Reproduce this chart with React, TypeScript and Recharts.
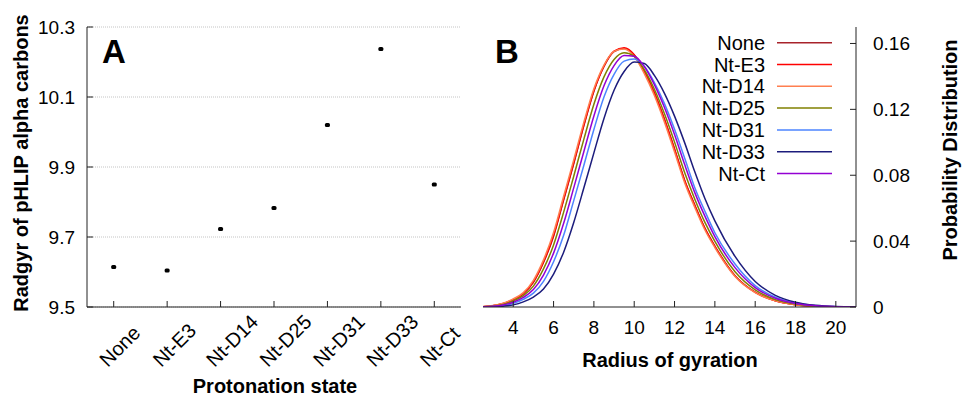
import React from "react";
import { ScatterChart, Scatter, LineChart, Line, XAxis, YAxis, CartesianGrid } from "recharts";

const FONT = '"Liberation Sans", Arial, Helvetica, sans-serif';
const INK = "#222";

// panel A: radius of gyration per protonation state
const states = ["None", "Nt-E3", "Nt-D14", "Nt-D25", "Nt-D31", "Nt-D33", "Nt-Ct"];
const radgyr = [9.614, 9.604, 9.723, 9.783, 10.02, 10.237, 9.85];
const radgyrTicks = [9.5, 9.7, 9.9, 10.1, 10.3];
const stateIdx = [0, 1, 2, 3, 4, 5, 6];

// panel B: probability distributions
const rg = [2.5, 3, 3.5, 4, 4.5, 5, 5.5, 6, 6.5, 7, 7.5, 8, 8.5, 9, 9.5, 10, 10.5, 11, 11.5, 12, 12.5, 13, 13.5, 14, 15, 16, 17, 18, 19, 20, 21];
const pNone = [0.0002, 0.0008, 0.002, 0.0045, 0.008, 0.015, 0.027, 0.043, 0.065, 0.087, 0.11, 0.131, 0.146, 0.155, 0.157, 0.153, 0.143, 0.13, 0.114, 0.096, 0.077, 0.062, 0.048, 0.037, 0.019, 0.009, 0.0038, 0.0014, 0.0004, 0.0001, 0];
const pE3 = [0.0002, 0.0008, 0.0021, 0.0046, 0.0082, 0.0152, 0.0273, 0.0434, 0.0655, 0.0875, 0.1104, 0.1313, 0.1463, 0.1553, 0.1574, 0.1532, 0.1431, 0.1299, 0.1138, 0.0958, 0.0768, 0.0618, 0.0478, 0.0368, 0.0189, 0.0089, 0.0037, 0.0014, 0.0004, 0.0001, 0];
const pD14 = [0.0003, 0.0009, 0.0023, 0.0049, 0.0087, 0.0162, 0.0286, 0.0452, 0.0672, 0.0893, 0.1121, 0.1325, 0.1469, 0.1552, 0.1566, 0.152, 0.1417, 0.1284, 0.1122, 0.0941, 0.0755, 0.0606, 0.0469, 0.0361, 0.0185, 0.0087, 0.0037, 0.0013, 0.0004, 0.0001, 0];
const pD25 = [0.0001, 0.0006, 0.0016, 0.0037, 0.0069, 0.0127, 0.0231, 0.0377, 0.0576, 0.0794, 0.1018, 0.1231, 0.1397, 0.1503, 0.1544, 0.1522, 0.1441, 0.1322, 0.1173, 0.1001, 0.0816, 0.0656, 0.0515, 0.0398, 0.0214, 0.0104, 0.0045, 0.0018, 0.0005, 0.0001, 0];
const pD31 = [0, 0.0003, 0.0009, 0.0022, 0.0047, 0.0084, 0.0156, 0.0275, 0.0435, 0.0646, 0.0859, 0.1078, 0.1275, 0.1413, 0.1493, 0.1506, 0.1462, 0.1363, 0.1235, 0.1079, 0.0905, 0.0726, 0.0583, 0.0451, 0.0261, 0.013, 0.0059, 0.0024, 0.0008, 0.0002, 0];
const pD33 = [0, 0.0001, 0.0005, 0.0013, 0.0031, 0.006, 0.0109, 0.02, 0.0333, 0.0513, 0.0722, 0.0936, 0.1145, 0.1316, 0.143, 0.1487, 0.1478, 0.1406, 0.1297, 0.1159, 0.0998, 0.0822, 0.066, 0.0523, 0.0307, 0.0155, 0.0071, 0.0029, 0.001, 0.0003, 0.0001];
const pCt = [0.0001, 0.0004, 0.0012, 0.0029, 0.0058, 0.0106, 0.0194, 0.0327, 0.0508, 0.0723, 0.0943, 0.116, 0.1343, 0.1466, 0.1527, 0.1523, 0.146, 0.135, 0.1211, 0.1047, 0.0866, 0.0696, 0.0553, 0.0427, 0.0239, 0.0118, 0.0053, 0.0021, 0.0007, 0.0002, 0];
const seriesKeys = ["none", "e3", "d14", "d25", "d31", "d33", "ct"];
const seriesNames = ["None", "Nt-E3", "Nt-D14", "Nt-D25", "Nt-D31", "Nt-D33", "Nt-Ct"];
const seriesValues = [pNone, pE3, pD14, pD25, pD31, pD33, pCt];
const seriesColors = ["#a8232b", "#ff0000", "#ff7f50", "#808000", "#4c84ff", "#1c1c7c", "#9400d3"];
const rgTicks = [4, 6, 8, 10, 12, 14, 16, 18, 20];
const probTicks = [0, 0.04, 0.08, 0.12, 0.16];

const scatterRows = stateIdx.map((i) => ({ i, value: radgyr[i] }));
const lineRows = rg.map((r, j) => {
  const row: Record<string, number> = { r };
  seriesKeys.forEach((k, s) => (row[k] = seriesValues[s][j]));
  return row;
});

const txt = { fontFamily: FONT, fill: "#000" };

const StateTick = (p: any) => (
  <g>
    <line x1={p.x} y1={p.y} x2={p.x} y2={p.y - 6} stroke={INK} />
    <text {...txt} fontSize={20} textAnchor="start" transform={`translate(${p.x - 6},${p.y + 61}) rotate(-45)`}>
      {states[p.payload.value]}
    </text>
  </g>
);
const TopTick = (p: any) => <line x1={p.x} y1={p.y} x2={p.x} y2={p.y + 6} stroke={INK} />;
const LeftInTick = (p: any) => <line x1={p.x} y1={p.y} x2={p.x + 6} y2={p.y} stroke={INK} />;
const RightInTick = (p: any) => <line x1={p.x} y1={p.y} x2={p.x - 6} y2={p.y} stroke={INK} />;
const RadgyrTick = (p: any) => (
  <g>
    <line x1={p.x} y1={p.y} x2={p.x + 6} y2={p.y} stroke={INK} />
    <text {...txt} fontSize={19} x={p.x - 12} y={p.y} dy="0.35em" textAnchor="end">
      {Number(p.payload.value).toFixed(1)}
    </text>
  </g>
);
const RgTick = (p: any) => (
  <g>
    <line x1={p.x} y1={p.y} x2={p.x} y2={p.y - 6} stroke={INK} />
    <text {...txt} fontSize={19} x={p.x} y={p.y + 27} textAnchor="middle">
      {p.payload.value}
    </text>
  </g>
);
const ProbTick = (p: any) => (
  <g>
    <line x1={p.x} y1={p.y} x2={p.x - 6} y2={p.y} stroke={INK} />
    <text {...txt} fontSize={19} x={p.x + 17} y={p.y} dy="0.35em" textAnchor="start">
      {String(p.payload.value)}
    </text>
  </g>
);

const Marker = (p: any) => <rect x={p.cx - 2.5} y={p.cy - 2} width={5} height={4} rx={1.5} fill="#000" />;

const axisLine = { stroke: INK, strokeWidth: 1 };

export default function App() {
  return (
    <div style={{ position: "absolute", left: 0, top: 0, width: 962, height: 398, background: "#fff" }}>
      <div style={{ position: "absolute", left: 0, top: 0 }}>
        <ScatterChart width={480} height={398} margin={{ top: 27, right: 19, bottom: 0, left: 0 }}>
          <CartesianGrid xAxisId="b" yAxisId="l" vertical={false} stroke="#c4c4c4" strokeDasharray="1 1" />
          <XAxis xAxisId="b" type="number" dataKey="i" domain={[-0.5, 6.5]} ticks={stateIdx} interval={0} allowDataOverflow height={91} tickSize={0} tickMargin={0} axisLine={axisLine} tickLine={false} tick={StateTick} />
          <XAxis xAxisId="t" orientation="top" type="number" domain={[-0.5, 6.5]} ticks={stateIdx} interval={0} allowDataOverflow height={0} tickSize={0} tickMargin={0} axisLine={axisLine} tickLine={false} tick={TopTick} />
          <YAxis yAxisId="l" type="number" dataKey="value" domain={[9.5, 10.3]} ticks={radgyrTicks} interval={0} allowDataOverflow width={87} tickSize={0} tickMargin={0} axisLine={axisLine} tickLine={false} tick={RadgyrTick} />
          <YAxis yAxisId="r" orientation="right" type="number" domain={[9.5, 10.3]} ticks={radgyrTicks} interval={0} allowDataOverflow width={0} tickSize={0} tickMargin={0} axisLine={axisLine} tickLine={false} tick={RightInTick} />
          <Scatter xAxisId="b" yAxisId="l" data={scatterRows} dataKey="value" shape={Marker} isAnimationActive={false} />
        </ScatterChart>
      </div>
      <div style={{ position: "absolute", left: 480, top: 0 }}>
        <LineChart width={482} height={398} data={lineRows} margin={{ top: 27, right: 0, bottom: 0, left: 3 }}>
          <XAxis xAxisId="b" type="number" dataKey="r" domain={[2.5, 21]} ticks={rgTicks} interval={0} allowDataOverflow height={91} tickSize={0} tickMargin={0} axisLine={axisLine} tickLine={false} tick={RgTick} />
          <XAxis xAxisId="t" orientation="top" type="number" domain={[2.5, 21]} ticks={rgTicks} interval={0} allowDataOverflow height={0} tickSize={0} tickMargin={0} axisLine={axisLine} tickLine={false} tick={TopTick} />
          <YAxis yAxisId="l" type="number" domain={[0, 0.17]} ticks={probTicks} interval={0} allowDataOverflow width={0} tickSize={0} tickMargin={0} axisLine={axisLine} tickLine={false} tick={LeftInTick} />
          <YAxis yAxisId="r" orientation="right" type="number" domain={[0, 0.17]} ticks={probTicks} interval={0} allowDataOverflow width={106} tickSize={0} tickMargin={0} axisLine={axisLine} tickLine={false} tick={ProbTick} />
          {seriesKeys.map((k, s) => (
            <Line key={k} xAxisId="b" yAxisId="r" type="monotone" dataKey={k} name={seriesNames[s]} stroke={seriesColors[s]} strokeWidth={1.5} dot={false} isAnimationActive={false} />
          ))}
        </LineChart>
      </div>
      <svg width={962} height={398} style={{ position: "absolute", left: 0, top: 0, pointerEvents: "none" }}>
        <text {...txt} x={102} y={63} fontSize={33} fontWeight="bold">A</text>
        <text {...txt} x={495} y={63} fontSize={33} fontWeight="bold">B</text>
        <text {...txt} fontSize={20} fontWeight="bold" textAnchor="middle" transform="translate(21,163) rotate(-90)" dy="0.35em">
          Radgyr of pHLIP alpha carbons
        </text>
        <text {...txt} x={275} y={393} fontSize={20} fontWeight="bold" textAnchor="middle">Protonation state</text>
        <text {...txt} x={670} y={367} fontSize={20} fontWeight="bold" textAnchor="middle">Radius of gyration</text>
        <text {...txt} fontSize={20} fontWeight="bold" textAnchor="middle" transform="translate(950,150) rotate(-90)" dy="0.35em">
          Probability Distribution
        </text>
        {seriesNames.map((n, s) => {
          const y = 42.7 + 21.8 * s;
          return (
            <g key={n}>
              <text {...txt} x={765} y={y} dy="0.35em" fontSize={20} textAnchor="end">{n}</text>
              <line x1={777} x2={832} y1={y} y2={y} stroke={seriesColors[s]} strokeWidth={1.5} />
            </g>
          );
        })}
      </svg>
    </div>
  );
}
